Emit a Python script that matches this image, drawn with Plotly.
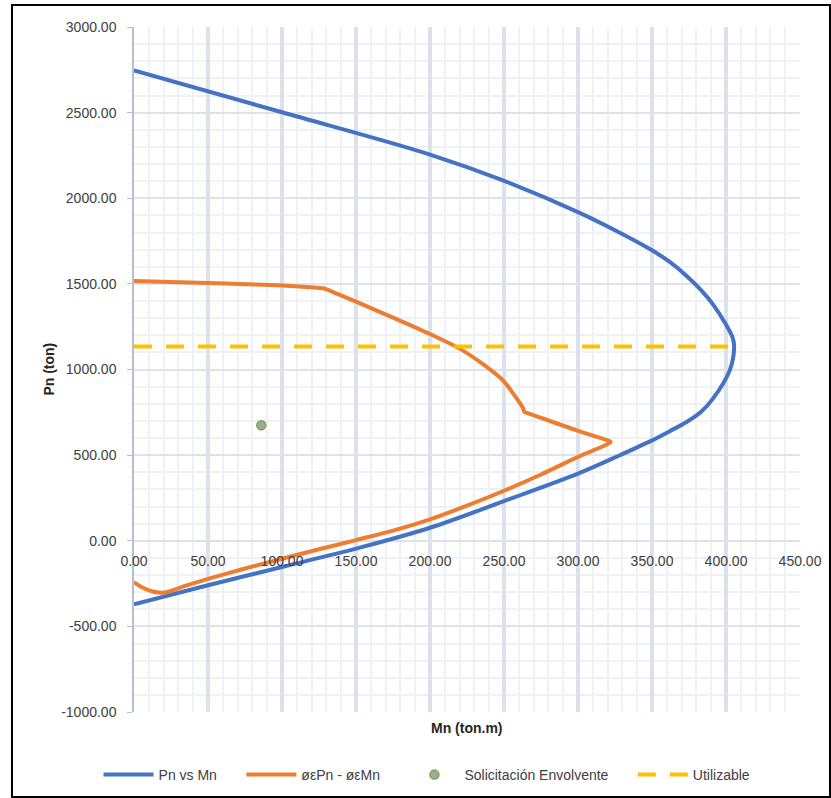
import plotly.graph_objects as go

# Interaction diagram: nominal strength curve (Pn vs Mn)
pn_mn_m = [0, 100, 200, 249.3, 300, 325, 350, 362, 373.2, 383, 391.2, 400.3, 404.3,
           405.5, 402.5, 391.2, 383, 373, 362, 350, 328.2, 300, 250, 200, 150, 100, 50, 0]
pn_mn_p = [2747, 2502, 2255, 2104, 1919, 1813, 1696, 1628, 1548, 1465, 1380, 1258, 1190,
           1135, 995, 830, 752, 692, 640, 586, 499, 392, 232, 76, -46, -153, -260, -371]

# Design strength curve (øεPn - øεMn)
phi_m = [0, 50, 100, 124, 128, 131, 137, 150, 175, 200, 220, 236, 249.3, 256, 260.6, 262.8, 264, 266.5, 299,
         319, 322, 319, 300, 275, 250, 225, 200, 175, 150, 125, 100, 75, 50, 35, 20, 12, 5, 0]
phi_p = [1517, 1505, 1490, 1477, 1474, 1465, 1443, 1396, 1303, 1207, 1122, 1030, 937, 862, 805, 775, 751, 744, 645,
         589, 577, 561, 490, 387, 292, 205, 125, 59, 4, -50, -105, -162, -223, -262, -303, -295, -270, -241]

# Envelope load demand
load_m = [86]
load_p = [674]

# Usable axial load level
util_m = [0, 405.5]
util_p = [1135, 1135]

# Axis ticks
x_ticks = [0, 50, 100, 150, 200, 250, 300, 350, 400, 450]
x_labels = ["0.00", "50.00", "100.00", "150.00", "200.00", "250.00", "300.00", "350.00", "400.00", "450.00"]
y_ticks = [-1000, -500, 0, 500, 1000, 1500, 2000, 2500, 3000]
y_labels = ["-1000.00", "-500.00", "0.00", "500.00", "1000.00", "1500.00", "2000.00", "2500.00", "3000.00"]

FONT = "Liberation Sans, Arial, sans-serif"
TXT = "#404040"
PAD = "\u00a0" * 5

fig = go.Figure()
fig.add_trace(go.Scatter(x=pn_mn_m, y=pn_mn_p, mode="lines", name="Pn vs Mn" + PAD,
                         line=dict(color="#4472C4", width=4, shape="spline", smoothing=1.0)))
fig.add_trace(go.Scatter(x=phi_m, y=phi_p, mode="lines", name="øεPn - øεMn" + PAD,
                         line=dict(color="#ED7D31", width=4, shape="spline", smoothing=0.9)))
fig.add_trace(go.Scatter(x=load_m, y=load_p, mode="markers", name="Solicitación Envolvente" + PAD,
                         marker=dict(color="#A5A5A5", size=9, line=dict(color="#70AD47", width=1.5))))
fig.add_trace(go.Scatter(x=util_m, y=util_p, mode="lines", name="Utilizable",
                         line=dict(color="#FFC000", width=4, dash="18px,14px")))

fig.update_layout(
    width=831, height=798,
    margin=dict(l=134, r=31, t=27, b=86, autoexpand=False),
    paper_bgcolor="white", plot_bgcolor="white",
    font=dict(family=FONT, size=14, color=TXT),
    showlegend=True,
    legend=dict(orientation="h", x=0.44, xanchor="center", y=-0.092, yanchor="middle",
                font=dict(family=FONT, size=14, color=TXT), itemwidth=50,
                traceorder="normal", bgcolor="rgba(0,0,0,0)"),
    xaxis=dict(range=[0, 450], tickmode="array", tickvals=x_ticks, ticktext=x_labels,
               anchor="free", position=0.25,
               showline=False, zeroline=False, ticks="", ticklabelstandoff=10,
               showgrid=True, gridcolor="#DCE2EA", gridwidth=3.5,
               minor=dict(dtick=10, tick0=0, showgrid=True, gridcolor="#EEF1F5", gridwidth=1.5),
               tickfont=dict(family=FONT, size=14, color=TXT)),
    yaxis=dict(range=[-1000, 3000], tickmode="array", tickvals=y_ticks, ticktext=y_labels,
               showline=True, linecolor="#B4BFD0", linewidth=1.5,
               ticks="outside", ticklen=5, tickcolor="#B4BFD0", ticklabelstandoff=8,
               zeroline=False,
               showgrid=True, gridcolor="#DFE3E9", gridwidth=2,
               minor=dict(dtick=100, tick0=0, showgrid=True, gridcolor="#EEF1F5", gridwidth=1.5),
               tickfont=dict(family=FONT, size=14, color=TXT)),
)

fig.add_annotation(text="<b>Pn (ton)</b>", xref="paper", yref="paper", x=-0.129, y=0.5,
                   xanchor="center", yanchor="middle",
                   textangle=-90, showarrow=False, font=dict(family=FONT, size=14, color="#262626"))
fig.add_annotation(text="<b>Mn (ton.m)</b>", xref="paper", yref="paper", x=0.5, y=-0.0234,
                   xanchor="center", yanchor="middle",
                   showarrow=False, font=dict(family=FONT, size=14, color="#262626"))

# Chart frame
fig.add_shape(type="rect", xref="paper", yref="paper", x0=-0.1832, x1=1.045, y0=-0.124, y1=1.032,
              line=dict(color="black", width=2), fillcolor="rgba(0,0,0,0)", layer="above")

fig.write_html("out.html")
